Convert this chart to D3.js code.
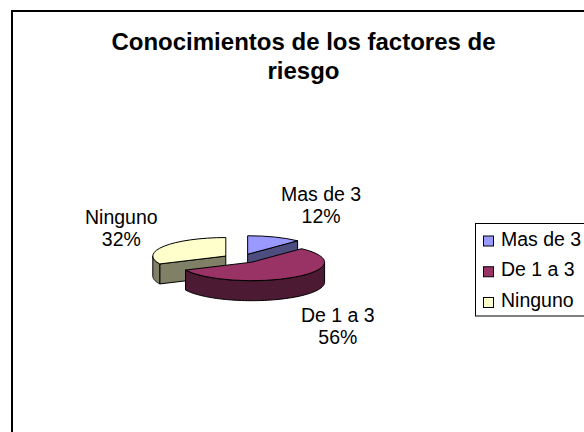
<!DOCTYPE html>
<html>
<head>
<meta charset="utf-8">
<script src="https://cdn.jsdelivr.net/npm/d3@7"></script>
<style>
  html, body { margin: 0; padding: 0; background: #ffffff; }
  svg { display: block; }
  text { font-family: "Liberation Sans", Arial, sans-serif; }
</style>
</head>
<body>
<svg id="chart" width="584" height="432"></svg>
<script>
// ---- data ----
const titleLines = ["Conocimientos de los factores de", "riesgo"];
const categories = ["Mas de 3", "De 1 a 3", "Ninguno"];
const values = [12, 56, 32];
const percentLabels = ["12%", "56%", "32%"];
const topColors = ["#9999FF", "#993366", "#FFFFCC"];
const sideColors = ["#4D4D80", "#4D1A33", "#808066"];

// ---- layout ----
const W = 584, H = 432;
const svg = d3.select("#chart");
svg.append("rect").attr("width", W).attr("height", H).attr("fill", "#fff");

// chart frame (extends past the right/bottom edges)
svg.append("rect")
  .attr("x", 12).attr("y", 11).attr("width", 700).attr("height", 600)
  .attr("fill", "none").attr("stroke", "#000").attr("stroke-width", 2);

// title
const title = svg.append("text")
  .attr("text-anchor", "middle")
  .attr("font-size", 24).attr("font-weight", "bold").attr("fill", "#000");
titleLines.forEach((t, i) => {
  title.append("tspan").attr("x", 303.5).attr("y", 49.5 + i * 29).text(t);
});

// ---- 3D pie ----
const cx = 241, cy = 258.5, rx = 73, ry = 18.5, depth = 20, explode = 18;
const k = ry / rx;
const pie = d3.pie().sort(null).value(d => d);
const slices = pie(values).map((s, i) => {
  const mid = (s.startAngle + s.endAngle) / 2;
  const vx = cx + explode * Math.sin(mid);
  const vy = cy - explode * Math.cos(mid) * k;
  return Object.assign({}, s, { i, mid, vx, vy });
});

const pt = (s, a, dz = 0) => [s.vx + rx * Math.sin(a), s.vy - ry * Math.cos(a) + dz];
const line = d3.line();
const arcGen = d3.arc().innerRadius(0).outerRadius(rx);

const pieG = svg.append("g");
// back slices first
const order = slices.slice().sort((a, b) => a.vy - b.vy);
order.forEach(s => {
  const g = pieG.append("g");
  const v = [s.vx, s.vy];
  const strokeAttrs = sel => sel.attr("stroke", "#000").attr("stroke-width", 1).attr("stroke-linejoin", "round");
  // radial cut faces (only those facing the viewer)
  const faces = [];
  if (Math.sin(s.startAngle) < -1e-6) faces.push(s.startAngle);
  if (Math.sin(s.endAngle) > 1e-6) faces.push(s.endAngle);
  faces.forEach(a => {
    const p = pt(s, a);
    const poly = [v, p, [p[0], p[1] + depth], [v[0], v[1] + depth]];
    g.append("path").attr("d", line(poly) + "Z").attr("fill", sideColors[s.i]).call(strokeAttrs);
  });
  // outer wall (front half only)
  const a1 = Math.max(s.startAngle, Math.PI / 2);
  const a2 = Math.min(s.endAngle, 3 * Math.PI / 2);
  if (a2 > a1) {
    const n = 60;
    const angs = d3.range(n + 1).map(j => a1 + (a2 - a1) * j / n);
    const topPts = angs.map(a => pt(s, a));
    const botPts = angs.slice().reverse().map(a => pt(s, a, depth));
    g.append("path").attr("d", line(topPts.concat(botPts)) + "Z")
      .attr("fill", sideColors[s.i]).call(strokeAttrs);
  }
  // top face
  g.append("path")
    .attr("transform", `translate(${s.vx},${s.vy}) scale(1,${k})`)
    .attr("d", arcGen(s))
    .attr("vector-effect", "non-scaling-stroke")
    .attr("fill", topColors[s.i]).call(strokeAttrs);
});

// ---- data labels ----
const labelFont = 19.5, lineGap = 22;
slices.forEach(s => {
  const sx = Math.sin(s.mid), sy = -Math.cos(s.mid);
  const e = pt(s, s.mid, sy > 0 ? depth : 0);
  const t = svg.append("text").attr("font-size", labelFont).attr("fill", "#000").attr("text-anchor", "middle");
  const l1 = t.append("tspan").text(categories[s.i]);
  const l2 = t.append("tspan").text(percentLabels[s.i]);
  const w = Math.max(l1.node().getComputedTextLength(), l2.node().getComputedTextLength());
  const centerX = e[0] + Math.sign(sx) * (w / 2 + 6.5);
  const centerY = e[1] + sy * 34.6;
  l1.attr("x", centerX).attr("y", centerY - 3.5);
  l2.attr("x", centerX).attr("y", centerY - 3.5 + lineGap);
});

// ---- legend ----
const legend = svg.append("g");
legend.append("rect").attr("x", 475.5).attr("y", 223.5).attr("width", 200).attr("height", 92.5)
  .attr("fill", "#fff").attr("stroke", "#000").attr("stroke-width", 1);
const ly = d3.scalePoint().domain(categories).range([241, 302.5]);
categories.forEach((c, i) => {
  legend.append("rect").attr("x", 483.5).attr("y", ly(c) - 5).attr("width", 10).attr("height", 10)
    .attr("fill", topColors[i]).attr("stroke", "#000").attr("stroke-width", 1);
  legend.append("text").attr("x", 501).attr("y", ly(c) + 4.5)
    .attr("font-size", labelFont).attr("fill", "#000").text(c);
});
</script>
</body>
</html>
